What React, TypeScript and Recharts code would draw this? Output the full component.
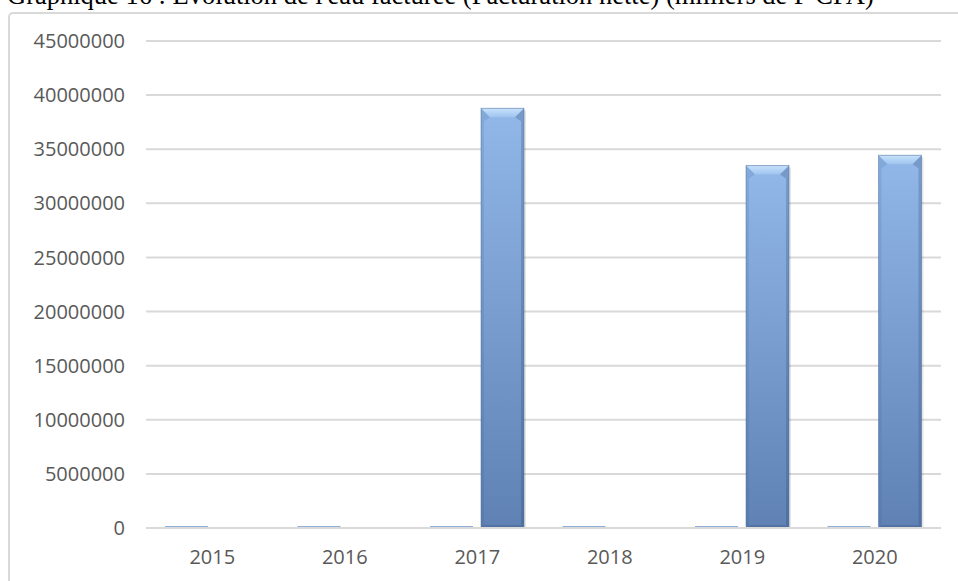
import React from 'react';
import { BarChart, Bar, XAxis, YAxis, CartesianGrid } from 'recharts';

const years = ['2015', '2016', '2017', '2018', '2019', '2020'];
// small series (barely visible at the base line)
const smallSeries = [180000, 180000, 180000, 180000, 180000, 180000];
// billed water, thousands of F CFA
const billed = [0, 0, 38780000, 0, 33490000, 34440000];
const yTicks = [0, 5000000, 10000000, 15000000, 20000000, 25000000, 30000000, 35000000, 40000000, 45000000];

const chartData = years.map((year, i) => ({ year, small: smallSeries[i], billed: billed[i] }));

const tickStyle = { fontFamily: '"Open Sans", sans-serif', fontSize: 20, fill: '#595959' };

// bevelled bar, like the Excel 3D preset
const BevelBar = (props: any) => {
  const { x, y, width, height } = props;
  if (!height || height <= 0) return null;
  const b = Math.min(9, height / 2);
  const s = 3;
  return (
    <g>
      <rect x={x + 2} y={y + 2} width={width} height={height - 1} fill="rgba(0,0,0,0.1)" />
      <rect x={x} y={y} width={width} height={height} fill="url(#billedGrad)" />
      {/* top bevel */}
      <polygon points={`${x},${y} ${x + width},${y} ${x + width - b},${y + b} ${x + b},${y + b}`} fill="url(#bevelTop)" />
      <polygon points={`${x},${y} ${x + b},${y + b} ${x + s},${y + b + 4} ${x + s},${y + height - s} ${x},${y + height}`} fill="rgba(40,70,120,0.12)" />
      <polygon points={`${x + width},${y} ${x + width - b},${y + b} ${x + width - s},${y + b + 4} ${x + width - s},${y + height - s} ${x + width},${y + height}`} fill="rgba(30,55,100,0.22)" />
      <polygon points={`${x},${y + height} ${x + s},${y + height - s} ${x + width - s},${y + height - s} ${x + width},${y + height}`} fill="rgba(30,55,100,0.2)" />
      <rect x={x} y={y} width={width} height={height} fill="none" stroke="#4e6f9e" strokeOpacity={0.5} strokeWidth={1} />
    </g>
  );
};

export default function App() {
  return (
    <div style={{ position: 'fixed', left: 0, top: 0, width: 958, height: 581, overflow: 'hidden', background: '#fff' }}>
      <div
        style={{
          position: 'absolute',
          left: 7,
          top: -20,
          fontFamily: '"Liberation Serif", "Times New Roman", serif',
          fontSize: 26.5,
          lineHeight: '30px',
          whiteSpace: 'nowrap',
          color: '#000',
        }}
      >
        Graphique 16 : Evolution de l'eau facturée (Facturation nette) (milliers de F CFA)
      </div>
      <div
        style={{
          position: 'absolute',
          left: 8,
          top: 12,
          width: 1100,
          height: 800,
          border: '2px solid #d9d9d9',
          borderRadius: 5,
        }}
      />
      <div style={{ position: 'absolute', left: 0, top: 0 }}>
        <BarChart
          width={958}
          height={581}
          data={chartData}
          margin={{ top: 41, right: 17, left: 0, bottom: 0 }}
          barSize={43}
          barGap={8}
        >
          <defs>
            <linearGradient id="billedGrad" x1="0" y1="0" x2="0" y2="1">
              <stop offset="0%" stopColor="#91b8e8" />
              <stop offset="100%" stopColor="#5f81b4" />
            </linearGradient>
            <linearGradient id="bevelTop" x1="0" y1="0" x2="0" y2="1">
              <stop offset="0%" stopColor="#c8e2fb" />
              <stop offset="100%" stopColor="#9ec4ef" />
            </linearGradient>
          </defs>
          <CartesianGrid horizontal vertical={false} stroke="#d9d9d9" strokeWidth={2} />
          <XAxis
            dataKey="year"
            height={53}
            axisLine={{ stroke: '#d9d9d9', strokeWidth: 2 }}
            tickLine={false}
            tickSize={0}
            tickMargin={22}
            tick={tickStyle}
          />
          <YAxis
            width={146}
            domain={[0, 45000000]}
            ticks={yTicks}
            interval={0}
            axisLine={false}
            tickLine={false}
            tickSize={0}
            tickMargin={21}
            tick={tickStyle}
          />
          <Bar dataKey="small" fill="#8fb1d9" isAnimationActive={false} />
          <Bar dataKey="billed" shape={<BevelBar />} isAnimationActive={false} />
        </BarChart>
      </div>
    </div>
  );
}
